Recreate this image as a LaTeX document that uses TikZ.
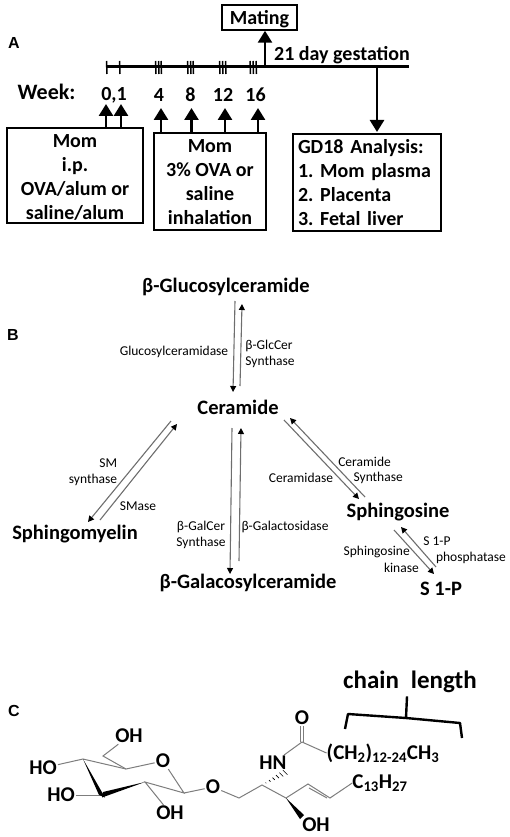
\documentclass[tikz,border=0pt]{standalone}
\usepackage{fontspec}
\setmainfont{Carlito}
\newfontfamily\panelfont{Liberation Sans}
\usetikzlibrary{arrows.meta,positioning,calc}
\definecolor{bondgray}{RGB}{125,125,125}
\definecolor{pathgray}{RGB}{110,110,110}
\frenchspacing
\tikzset{
  panellabel/.style={font=\panelfont\bfseries\fontsize{16}{18}\selectfont},
  stagebox/.style={draw, line width=1.5pt, align=center, inner sep=0pt,
    font=\bfseries\fontsize{20}{24}\selectfont},
  stagetext/.style={font=\bfseries\fontsize{20}{24}\selectfont},
  bigarrow/.style={line width=2.6pt, -{Triangle[length=12pt,width=14pt]}},
  tick/.style={line width=1.5pt},
  lipid/.style={font=\bfseries\fontsize{20.5}{24}\selectfont, inner sep=1pt},
  enzyme/.style={font=\fontsize{13.5}{16}\selectfont, inner sep=0pt, align=center},
  pathway/.style={pathgray, line width=1.1pt, -{Triangle[length=6pt,width=6pt,color=black]}},
  atom/.style={font=\bfseries\fontsize{21}{24}\selectfont, inner sep=1pt},
  bond/.style={bondgray, line width=1pt},
}
\begin{document}
\begin{tikzpicture}[x=1pt,y=-1pt]
    \useasboundingbox (0,0) rectangle (510,837);

    % panel A: timeline
    \node[panellabel] (labelA) at (14,43) {A};
    \node[stagebox, minimum width=75pt, minimum height=25pt] (mating) at (259.5,17.5) {\rule{0pt}{17.5pt}Mating};
    \coordinate (start) at (106,66.5);
    \coordinate (end) at (409,66.5);
    \draw[line width=2.5pt] (start) -- (end);
    \foreach \x in {106.5,119.5,155.5,158.5,161,187.5,190.5,193,219.5,222.5,225.5,250,253,256}
        \draw[tick] (\x,61) -- (\x+0.5,74);
    \node[stagetext] (gestation) at (342,55) {21 day gestation};
    \node[stagetext, font=\bfseries\fontsize{22}{24}\selectfont] (week) at (46.5,92) {Week:};
    \node[stagetext] (w01) at (114,95) {0,1};
    \node[stagetext] (w4) at (159,95) {4};
    \node[stagetext] (w8) at (190.5,95) {8};
    \node[stagetext] (w12) at (223,95) {12};
    \node[stagetext] (w16) at (255.5,95) {16};

    % panel A: boxes
    \node[stagebox, minimum width=136pt, minimum height=95pt] (ip) at (75,175.5)
        {\rule{0pt}{17pt}Mom\\i.p.\\OVA/alum or\\saline/alum};
    \node[stagebox, minimum width=112pt, minimum height=97pt] (inhale) at (210,181.5)
        {\rule{0pt}{15pt}Mom\\3\% OVA or\\saline\\inhalation};
    \node[stagebox, minimum width=148pt, minimum height=97pt, align=left, text width=138pt] (analysis) at (367,182.5)
        {GD18 Analysis:\\1. Mom plasma\\2. Placenta\\3. Fetal liver};

    % panel A: arrows
    \draw[bigarrow] (265,66.5) -- (mating.south -| 265,0);
    \draw[bigarrow] (377,66.5) -- (377,132);
    \foreach \x/\y in {106/104,121/104}
        \draw[bigarrow] (ip.north -| \x,0) -- (\x,\y);
    \foreach \x/\y in {161/108,191.5/108,225/108,258/108}
        \draw[bigarrow] (inhale.north -| \x,0) -- (\x,\y);

    % panel B: lipids
    \node[panellabel] (labelB) at (13,335) {B};
    \node[lipid] (glucosyl) at (226,287) {β-Glucosylceramide};
    \node[lipid] (ceramide) at (238,407) {Ceramide};
    \node[lipid] (myelin) at (75,534) {Sphingomyelin};
    \node[lipid] (galacosyl) at (248,583) {β-Galacosylceramide};
    \node[lipid] (sphingosine) at (398,512) {Sphingosine};
    \node[lipid] (s1p) at (441,589) {S 1-P};

    % panel B: paired arrows
    \draw[pathway] ([shift={(9,14)}]glucosyl.center) -- ([shift={(-5,-15)}]ceramide.center);
    \draw[pathway] ([shift={(2,-21)}]ceramide.center) -- ([shift={(16,17)}]glucosyl.center);
    \draw[pathway] ([shift={(-67,14)}]ceramide.center) -- ([shift={(13,-12)}]myelin.center);
    \draw[pathway] ([shift={(25,-14)}]myelin.center) -- ([shift={(-61,17)}]ceramide.center);
    \draw[pathway] ([shift={(-6,21)}]ceramide.center) -- ([shift={(-18,-9)}]galacosyl.center);
    \draw[pathway] ([shift={(-9,-22)}]galacosyl.center) -- ([shift={(3,21)}]ceramide.center);
    \draw[pathway] ([shift={(46,13)}]ceramide.center) -- ([shift={(-39,-13)}]sphingosine.center);
    \draw[pathway] ([shift={(-33,-15)}]sphingosine.center) -- ([shift={(52,11)}]ceramide.center);
    \draw[pathway] ([shift={(-4,18)}]sphingosine.center) -- ([shift={(-7,-15)}]s1p.center);
    \draw[pathway] ([shift={(-5,-22)}]s1p.center) -- ([shift={(3,15)}]sphingosine.center);

    % panel B: enzymes
    \node[enzyme] (glcase) at (174,352) {Glucosylceramidase};
    \node[enzyme, align=left] (glcsyn) at (270,354) {β-GlcCer\\Synthase};
    \node[enzyme, align=right] (smsyn) at (93,472) {SM\\synthase};
    \node[enzyme] (smase) at (138,506) {SMase};
    \node[enzyme] (cerase) at (301,478) {Ceramidase};
    \node[enzyme, anchor=east] (cersyn) at (391,462) {Ceramide};
    \node[enzyme, anchor=east] (cersyn2) at (403,478) {Synthase};
    \node[enzyme] (galsyn) at (201,535) {β-GalCer\\Synthase};
    \node[enzyme] (galase) at (285,527) {β-Galactosidase};
    \node[enzyme, anchor=east] (kinase) at (410,552) {Sphingosine};
    \node[enzyme, anchor=east] (kinase2) at (419,568) {kinase};
    \node[enzyme] (phos) at (437,541) {S 1-P};
    \node[enzyme] (phos2) at (471,558) {phosphatase};

    % panel C: sugar ring
    \node[panellabel] (labelC) at (14,711) {C};
    \node[atom] (oh6) at (129,736) {OH};
    \node[atom] (oring) at (163,761) {O};
    \node[atom] (ho4) at (43,768) {HO};
    \node[atom] (ho3) at (61,795) {HO};
    \node[atom] (oh2) at (170,813) {OH};
    \node[atom] (oglyc) at (213,787) {O};
    \coordinate (c6) at (103,756);
    \coordinate (c5) at (126,769);
    \coordinate (c4) at (83,759);
    \coordinate (c3) at (102,795);
    \coordinate (c2) at (145,782);
    \coordinate (c1) at (184,793);
    \draw[bond] (oh6) -- (c6) -- (c5) -- (oring) -- (c1) -- (c2) -- (oh2);
    \draw[bond] (c5) -- (c4) -- (ho4);
    \draw[bond] (ho3) -- (c3);
    \draw[bond] (c1) -- (oglyc);
    \fill (c4) -- ($(c3)+(-3,0)$) -- ($(c3)+(3,2.5)$) -- cycle;
    \fill (c2) -- ($(c3)+(1,-3)$) -- ($(c3)+(0,2.5)$) -- cycle;

    % panel C: ceramide chain
    \node[atom] (hn) at (273,763) {HN};
    \node[atom] (ocarb) at (302,718) {O};
    \node[atom, inner sep=0pt] (acyl) at (383,753) {(CH\textsubscript{2})\textsubscript{12-24}CH\textsubscript{3}};
    \node[atom, inner sep=0pt] (alkyl) at (380,783) {C\textsubscript{13}H\textsubscript{27}};
    \node[atom] (oh3) at (316,825) {OH};
    \coordinate (ch2) at (239,798);
    \coordinate (cn) at (262,785);
    \coordinate (coh) at (286,798);
    \coordinate (v1) at (308,784);
    \coordinate (v2) at (330,798);
    \coordinate (camide) at (302,742);
    \draw[bond] (oglyc) -- (ch2) -- (cn) -- (coh) -- (v1) -- (v2) -- (alkyl.west);
    \draw[bond] ($(v1)+(1,4)$) -- ($(v2)+(-3,0)$);
    \draw[bond] (hn) -- (camide) -- (acyl.west);
    \draw[bond] ($(camide)+(-1.5,0)$) -- ($(ocarb.south)+(-1.5,0)$);
    \draw[bond] ($(camide)+(1.5,0)$) -- ($(ocarb.south)+(1.5,0)$);
    \fill (coh) -- ([shift={(-12,-10)}]oh3.center) -- ([shift={(-16,-6)}]oh3.center) -- cycle;
    \foreach \t in {0.15,0.3,...,1.0}
        \draw[black, line width=0.6pt] ($(cn)!\t!(hn.south east)+(-\t*2.5,-\t*2.5)$) -- ($(cn)!\t!(hn.south east)+(\t*2.5,\t*2.5)$);

    % chain length bracket
    \node[font=\bfseries\fontsize{25}{28}\selectfont] (chain) at (410,682) {chain\hspace{0.25em} length};
    \coordinate (brace) at (406,718);
    \draw[line width=2.4pt, line join=round] (345,729) -- (348,714) -- (brace) -- (460,723) -- (462,738);
    \draw[line width=2.4pt] (brace) -- (chain.south -| 407,0);
\end{tikzpicture}
\end{document}
